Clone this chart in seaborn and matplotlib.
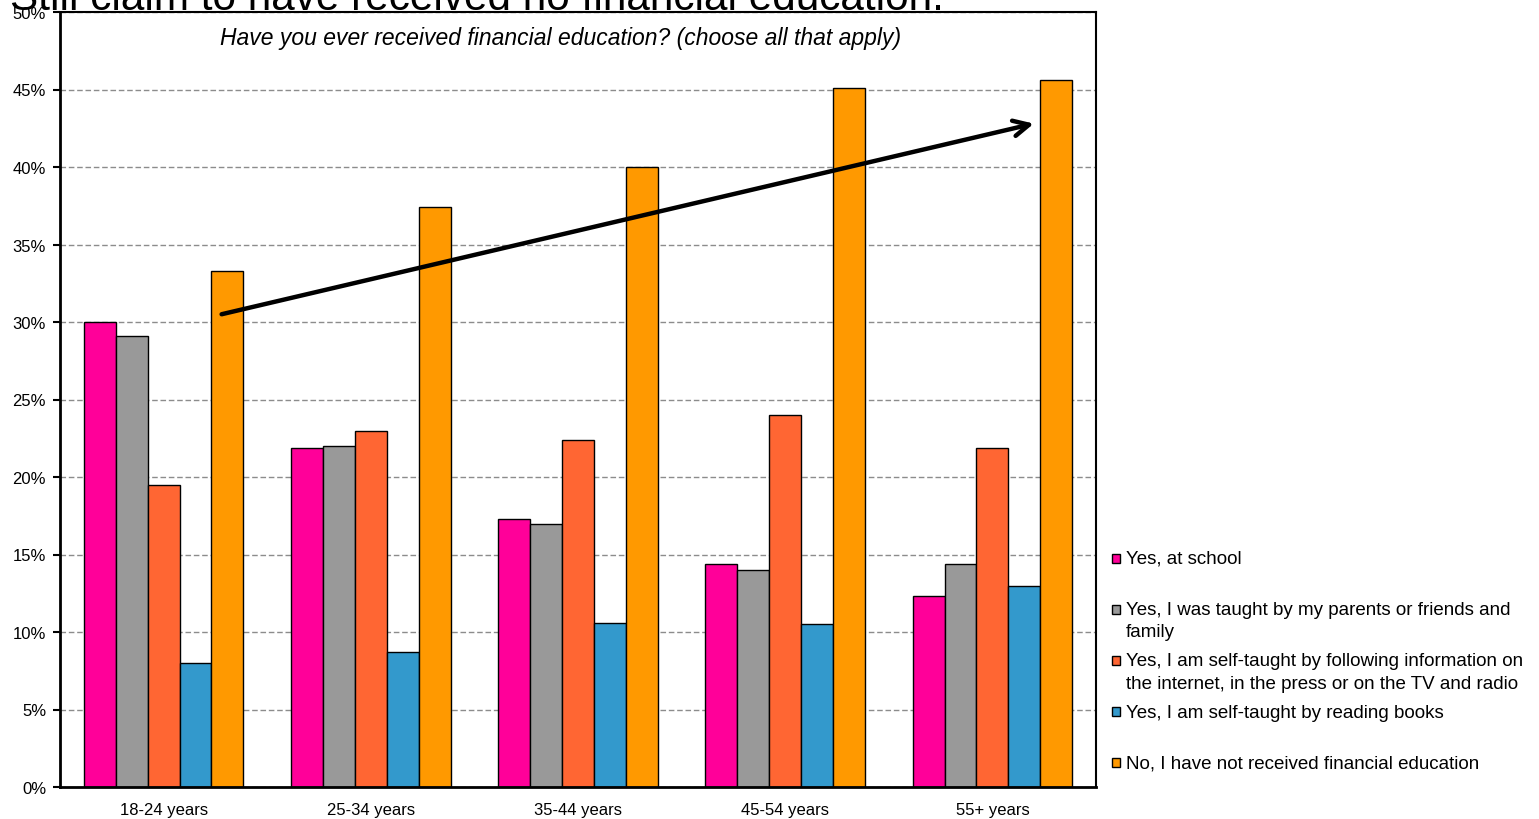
import matplotlib
matplotlib.use("Agg")
import matplotlib.pyplot as plt
from matplotlib.legend_handler import HandlerBase
from matplotlib.patches import Patch, Rectangle
from matplotlib.ticker import FuncFormatter, MultipleLocator
import pandas as pd
import seaborn as sns

# Survey data: share of respondents (%) by age group and source of financial education
age_groups = ["18-24 years", "25-34 years", "35-44 years", "45-54 years", "55+ years"]
series_labels = [
    "Yes, at school",
    "Yes, I was taught by my parents or friends and\nfamily",
    "Yes, I am self-taught by following information on\nthe internet, in the press or on the TV and radio",
    "Yes, I am self-taught by reading books",
    "No, I have not received financial education",
]
at_school = [30.0, 21.9, 17.3, 14.4, 12.3]
parents_friends = [29.1, 22.0, 17.0, 14.0, 14.4]
self_taught_media = [19.5, 23.0, 22.4, 24.0, 21.9]
self_taught_books = [8.0, 8.7, 10.6, 10.5, 13.0]
no_education = [33.3, 37.4, 40.0, 45.1, 45.6]
colors = ["#FF0099", "#999999", "#FF6633", "#3399CC", "#FF9900"]

headline = "Still claim to have received no financial education."
question = "Have you ever received financial education? (choose all that apply)"

sns.set_theme(style="white")
plt.rcParams["font.family"] = ["Liberation Sans", "DejaVu Sans"]

values = [at_school, parents_friends, self_taught_media, self_taught_books, no_education]
df = pd.DataFrame(
    [
        {"age": age, "series": lab, "value": vals[i]}
        for lab, vals in zip(series_labels, values)
        for i, age in enumerate(age_groups)
    ]
)

fig = plt.figure(figsize=(15.39, 8.20), dpi=100)
ax = fig.add_axes([60 / 1539, 1 - 788 / 820, (1096 - 60) / 1539, (788 - 13) / 820])

sns.barplot(
    data=df, x="age", y="value", hue="series", hue_order=series_labels,
    order=age_groups, palette=colors, saturation=1, width=0.77,
    edgecolor="black", linewidth=1.0, ax=ax, legend=False, errorbar=None,
)

ax.set_ylim(0, 50)
ax.set_xlim(-0.5, 4.5)
ax.yaxis.set_major_locator(MultipleLocator(5))
ax.yaxis.set_major_formatter(FuncFormatter(lambda v, _: f"{v:.0f}%"))
ax.set_axisbelow(True)
ax.yaxis.grid(True, linestyle=(0, (4, 2)), color="#8c8c8c", linewidth=1.0)
ax.set_xlabel("")
ax.set_ylabel("")
for side in ["left", "bottom"]:
    ax.spines[side].set_linewidth(2.0)
for side in ["top", "right"]:
    ax.spines[side].set_linewidth(1.5)
for sp in ax.spines.values():
    sp.set_color("black")
ax.tick_params(axis="y", which="major", left=True, length=5, width=1.5,
               color="black", labelsize=12, pad=5, direction="out")
ax.tick_params(axis="x", bottom=False, labelsize=12, pad=5)
for t in ax.get_xticklabels() + ax.get_yticklabels():
    t.set_color("black")

# Trend arrow across the "no education" bars
ax.annotate(
    "", xy=(4.2, 42.8), xytext=(0.28, 30.5),
    arrowprops=dict(arrowstyle="->", lw=3.2, color="black",
                    mutation_scale=28, shrinkA=0, shrinkB=0),
)

ax.text(0.483, 0.982, question, transform=ax.transAxes, ha="center", va="top",
        fontsize=16.5, style="italic", color="black")

fig.text(10 / 1539, 1 - 10 / 820, headline, fontsize=30.4, va="baseline",
         ha="left", color="black")


class FirstLineSquare(HandlerBase):
    """Square legend key aligned with the first line of a two-line label."""

    def __init__(self, step, size):
        super().__init__()
        self.step = step
        self.size = size

    def create_artists(self, legend, orig_handle, xdescent, ydescent,
                       width, height, fontsize, trans):
        s = self.size * fontsize
        cy = self.step * fontsize + 0.36 * fontsize
        rect = Rectangle((width - s - xdescent, cy - s / 2), s, s,
                         facecolor=orig_handle.get_facecolor(),
                         edgecolor="black", linewidth=1.0, transform=trans)
        return [rect]


handles = [Patch(facecolor=c) for c in colors]
legend_labels = [lab if "\n" in lab else lab + "\n" for lab in series_labels]
leg = ax.legend(
    handles, legend_labels, loc="upper left",
    bbox_to_anchor=(1110 / 1539, 1 - 551 / 820), bbox_transform=fig.transFigure,
    frameon=False, fontsize=13.5, borderpad=0, borderaxespad=0,
    handlelength=0.55, handletextpad=0.3, labelspacing=0.64,
    handler_map={Patch: FirstLineSquare(step=0.6, size=0.47)},
)
for t in leg.get_texts():
    t.set_linespacing(1.4)
    t.set_color("black")

fig.savefig("out.png", dpi=100)
